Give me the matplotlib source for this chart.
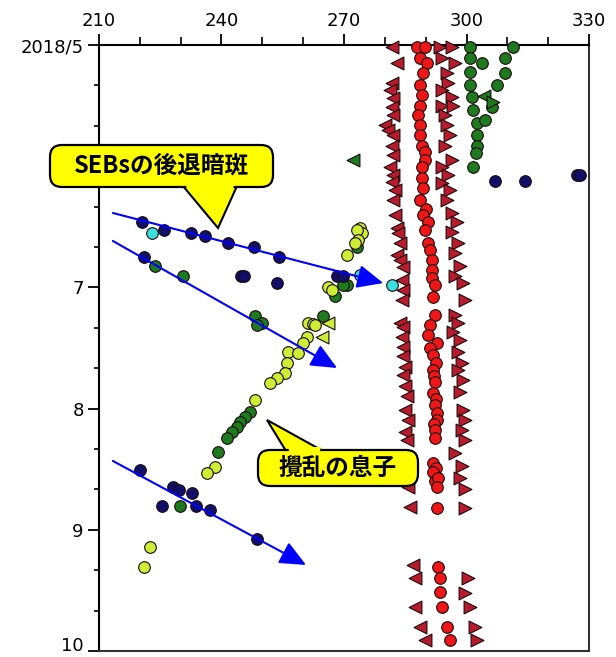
import numpy as np
import matplotlib
matplotlib.use("Agg")
import matplotlib.pyplot as plt
from matplotlib.patches import FancyBboxPatch, Polygon
from matplotlib.transforms import Affine2D, ScaledTranslation

# --- données (x = longitude, y = mois 2018) ---
red_circ_x = [287.9, 289.8, 288.6, 290.3, 289.4, 288.6, 289.1, 288.6, 288.1, 288.6,
              288.6, 289.1, 289.9, 289.8, 289.1, 289.1, 289.4, 288.6, 290.0, 289.4,
              290.6, 289.8, 290.6, 291.1, 291.6, 291.6, 291.6, 292.3, 291.8, 292.3,
              291.1, 290.6, 292.8, 291.0, 291.8, 292.6, 291.8, 292.0, 292.3, 291.8,
              292.6, 292.3, 292.8, 292.8, 292.0, 292.3, 292.3, 291.8, 292.6, 291.8,
              292.3, 293.0, 292.8, 292.8, 293.0, 293.5, 293.5, 294.0, 295.2, 296.0]
red_circ_y = [5.02, 5.02, 5.11, 5.15, 5.23, 5.33, 5.41, 5.50, 5.58, 5.66,
              5.74, 5.83, 5.88, 5.95, 6.01, 6.10, 6.18, 6.28, 6.35, 6.40,
              6.46, 6.53, 6.63, 6.69, 6.77, 6.86, 6.92, 6.98, 7.08, 7.23,
              7.31, 7.39, 7.46, 7.50, 7.56, 7.62, 7.68, 7.73, 7.78, 7.87,
              7.92, 7.97, 8.04, 8.09, 8.13, 8.18, 8.24, 8.45, 8.49, 8.52,
              8.60, 8.57, 8.65, 8.82, 9.31, 9.40, 9.51, 9.64, 9.80, 9.91]

red_left_x = [281.8, 283.0, 281.8, 281.3, 282.0, 281.8, 282.0, 280.0, 280.8, 282.0,
              281.8, 282.0, 281.3, 282.0, 281.8, 282.5, 282.0, 282.5, 283.0, 283.2,
              283.7, 283.0, 283.7, 284.5, 284.2, 284.5, 284.2, 283.7, 284.5, 284.2,
              284.5, 284.5, 284.9, 284.5, 284.9, 285.4, 284.9, 285.7, 284.9, 285.4,
              285.7, 286.2, 286.9, 287.4, 287.4, 288.6, 289.8]
red_left_y = [5.02, 5.15, 5.31, 5.37, 5.44, 5.51, 5.58, 5.66, 5.70, 5.74,
              5.83, 5.91, 6.01, 6.07, 6.13, 6.20, 6.28, 6.40, 6.51, 6.55,
              6.63, 6.73, 6.77, 6.83, 6.94, 7.02, 7.10, 7.29, 7.33, 7.41,
              7.49, 7.57, 7.66, 7.72, 7.81, 7.90, 8.01, 8.09, 8.19, 8.26,
              8.65, 8.81, 9.29, 9.40, 9.64, 9.80, 9.91]

red_right_x = [293.5, 296.5, 294.0, 297.2, 295.2, 295.5, 294.0, 296.5, 294.0, 296.7,
               294.7, 295.2, 296.0, 294.7, 296.5, 294.0, 295.5, 294.0, 296.0, 295.2,
               296.5, 297.7, 296.5, 297.9, 297.2, 298.4, 297.2, 299.1, 299.6, 297.2,
               297.9, 296.7, 298.4, 297.9, 298.9, 297.9, 299.1, 298.4, 299.1, 299.6,
               298.9, 299.6, 297.2, 298.9, 298.4, 299.6, 299.6, 300.4, 299.6, 300.9,
               302.1, 302.6]
red_right_y = [5.02, 5.02, 5.11, 5.15, 5.23, 5.31, 5.37, 5.43, 5.50, 5.50,
               5.58, 5.66, 5.74, 5.83, 5.95, 6.01, 6.07, 6.14, 6.20, 6.28,
               6.39, 6.46, 6.54, 6.63, 6.72, 6.82, 6.91, 6.96, 7.10, 7.23,
               7.29, 7.37, 7.43, 7.53, 7.62, 7.68, 7.76, 7.86, 8.01, 8.09,
               8.18, 8.26, 8.37, 8.47, 8.57, 8.66, 8.82, 9.40, 9.52, 9.64,
               9.80, 9.91]

green_x = [300.9, 300.9, 303.8, 300.9, 300.9, 301.4, 301.6, 302.6, 302.6, 302.6,
           302.3, 301.6, 311.4, 309.4, 309.4, 307.5, 306.3, 304.5,
           223.7, 230.6, 248.2, 249.9, 248.7,
           273.2, 270.7, 269.8, 267.8, 264.9,
           247.0, 245.8, 244.5, 243.8, 242.6, 241.3, 239.1, 229.8]
green_y = [5.02, 5.11, 5.15, 5.22, 5.33, 5.43, 5.54, 5.64, 5.74, 5.83,
           5.89, 6.01, 5.02, 5.11, 5.23, 5.33, 5.51, 5.62,
           6.82, 6.91, 7.24, 7.29, 7.31,
           6.67, 6.98, 6.98, 7.07, 7.24,
           8.03, 8.07, 8.11, 8.15, 8.19, 8.24, 8.36, 8.80]
green_left_x = [272.2, 304.2]
green_left_y = [5.95, 5.42]
green_right_x = [306.5]
green_right_y = [5.47]

navy_x = [220.5, 225.9, 232.5, 236.0, 241.6, 248.0, 254.1, 221.0, 244.8, 245.6,
          253.6, 268.3, 269.8, 307.0, 314.3, 327.1, 327.9,
          220.0, 228.1, 229.6, 232.8, 225.4, 233.8, 237.2, 248.7]
navy_y = [6.46, 6.53, 6.55, 6.58, 6.63, 6.67, 6.75, 6.75, 6.91, 6.91,
          6.96, 6.91, 6.91, 6.12, 6.12, 6.07, 6.07,
          8.51, 8.65, 8.67, 8.70, 8.80, 8.80, 8.84, 9.08]

cyan_x = [223.0, 273.9, 281.8]
cyan_y = [6.55, 6.90, 6.98]

yellow_x = [273.9, 274.4, 273.2, 273.4, 272.7, 270.7, 266.1, 267.1, 261.2, 262.4,
            262.9, 260.9, 260.0, 256.3, 258.7, 256.0, 255.6, 253.6, 251.9, 248.2,
            238.4, 236.5, 222.5, 221.0]
yellow_y = [6.51, 6.55, 6.53, 6.61, 6.63, 6.73, 7.00, 7.02, 7.29, 7.30,
            7.31, 7.41, 7.46, 7.53, 7.54, 7.62, 7.71, 7.75, 7.79, 7.93,
            8.48, 8.53, 9.14, 9.31]
yellow_left_x = [266.1, 264.6]
yellow_left_y = [7.29, 7.41]

x_ticks = [210, 240, 270, 300, 330]
y_ticks = [5, 6, 7, 8, 9, 10]
y_labels = ["2018/5", "", "7", "8", "9", "10"]  # le "6" est caché par la bulle

# flèches bleues (départ, arrivée) en coordonnées des données
arrows = [((213.4, 6.386), (279.6, 6.964)),
          ((213.4, 6.617), (268.3, 7.665)),
          ((213.4, 8.432), (260.7, 9.29))]

W, H = 616, 657
fig = plt.figure(figsize=(W / 100, H / 100), dpi=100)
ax = fig.add_axes([99 / W, 1 - 651 / H, 490 / W, 606 / H])
ax.set_xlim(210, 330)
ax.set_ylim(10, 5)

tick_font = dict(family=["Liberation Sans Narrow", "DejaVu Sans"], size=13)
ax.xaxis.tick_top()
ax.set_xticks(x_ticks)
ax.set_xticklabels([str(t) for t in x_ticks], **tick_font)
ax.set_xticks(np.arange(210, 331, 10), minor=True)
ax.set_yticks(y_ticks)
ax.set_yticklabels(y_labels, **tick_font)
ax.set_yticks(np.arange(5, 10.01, 1 / 3), minor=True)
ax.tick_params(axis="both", which="major", direction="out", length=8, width=1.3, pad=3)
ax.tick_params(axis="x", which="minor", direction="out", length=5.5, width=1.2)
ax.tick_params(axis="y", which="minor", direction="out", length=3.5, width=1.2)
# remonter un peu le "10" pour qu'il ne soit pas coupé
lab10 = ax.get_yticklabels()[-1]
lab10.set_transform(lab10.get_transform() + ScaledTranslation(0, 5 / 72, fig.dpi_scale_trans))
for s in ax.spines.values():
    s.set_linewidth(1.5)
ax.spines["right"].set_color("#333333")
ax.spines["bottom"].set_color("#333333")

kw = dict(edgecolors="#1a0a0a", linewidths=0.8, clip_on=False)
ax.scatter(red_left_x, red_left_y, marker="<", s=85, c="#b81c2c", zorder=3, **kw)
ax.scatter(red_right_x, red_right_y, marker=">", s=85, c="#b81c2c", zorder=3, **kw)
ax.scatter(red_circ_x, red_circ_y, marker="o", s=70, c="#ee1616", zorder=4, **kw)
ax.scatter(green_x, green_y, marker="o", s=70, c="#1e7a1e", zorder=5, **kw)
ax.scatter(green_left_x, green_left_y, marker="<", s=85, c="#1e7a1e", zorder=5, **kw)
ax.scatter(green_right_x, green_right_y, marker=">", s=85, c="#1e7a1e", zorder=5, **kw)
ax.scatter(yellow_x, yellow_y, marker="o", s=70, c="#cdee35", zorder=5, **kw)
ax.scatter(yellow_left_x, yellow_left_y, marker="<", s=85, c="#cdee35", zorder=5, **kw)
ax.scatter(navy_x, navy_y, marker="o", s=70, c="#10106a", zorder=6, **kw)
ax.scatter(cyan_x, cyan_y, marker="o", s=70, c="#3ae0e0", zorder=6, **kw)

for start, end in arrows:
    ax.annotate("", xy=end, xytext=start, zorder=8,
                arrowprops=dict(arrowstyle="-|>,head_length=1.0,head_width=0.45",
                                mutation_scale=16, color="#0000ff", lw=1.5,
                                shrinkA=0, shrinkB=0))

# bulles jaunes, en pixels depuis le coin haut gauche
px = Affine2D().scale(1 / W, -1 / H).translate(0, 1) + fig.transFigure


def bulle(box, tail, text):
    x0, y0, w, h = box
    ax.add_patch(Polygon(tail, closed=True, facecolor="#ffff00", edgecolor="black",
                         lw=1.5, transform=px, clip_on=False, zorder=10))
    ax.add_patch(FancyBboxPatch((x0, y0), w, h, boxstyle="round,pad=0,rounding_size=12",
                                facecolor="#ffff00", edgecolor="black", lw=1.6,
                                transform=px, clip_on=False, zorder=11))
    (ax1, ay1), tip, (ax2, ay2) = tail
    ax.add_patch(Polygon([(ax1 + 2, ay1 - 4), (ax2 - 2, ay2 - 4), (ax2 - 4, ay2 + 3), (ax1 + 4, ay1 + 3)],
                         closed=True, facecolor="#ffff00", edgecolor="none",
                         transform=px, clip_on=False, zorder=12))
    ax.text(x0 + w / 2, y0 + h / 2, text, transform=px, ha="center", va="center",
            fontsize=17, fontweight="bold", color="black",
            family=["Noto Sans CJK JP", "DejaVu Sans"], zorder=13, clip_on=False)


bulle((50, 145, 223, 42), [(183, 186), (218, 228), (237, 186)], "SEBsの後退暗斑")
bulle((258, 450, 160, 36), [(286, 451), (267, 420), (323, 451)], "攪乱の息子")

fig.savefig("out.png", dpi=100)
